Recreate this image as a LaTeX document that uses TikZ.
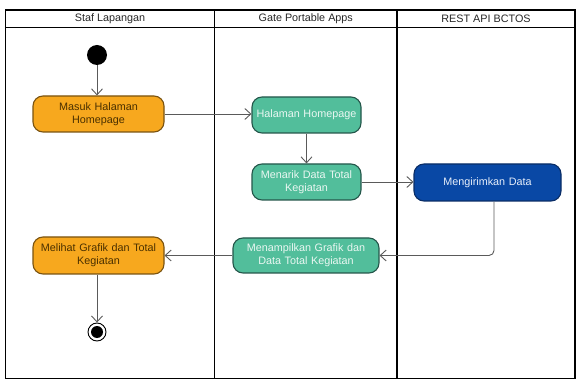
\documentclass[tikz,border=0pt]{standalone}
\usepackage{fontspec}
\setmainfont{Liberation Sans}
\usetikzlibrary{arrows.meta,positioning}
\definecolor{orangefill}{HTML}{F7A81E}
\definecolor{orangeline}{HTML}{7A5310}
\definecolor{orangetext}{HTML}{4A3000}
\definecolor{tealfill}{HTML}{52BE9B}
\definecolor{tealline}{HTML}{24564A}
\definecolor{tealtext}{HTML}{EAF7F2}
\definecolor{bluefill}{HTML}{0948A5}
\definecolor{blueline}{HTML}{0A2D66}
\definecolor{bluetext}{HTML}{E6EEFA}
\definecolor{conn}{HTML}{5A5A5A}
\tikzset{
  act/.style={draw, line width=1.1pt, rounded corners=10pt, inner sep=0pt,
    align=center, font=\fontsize{10.8}{12.8}\selectfont},
  actorange/.style={act, fill=orangefill, draw=orangeline, text=orangetext},
  actteal/.style={act, fill=tealfill, draw=tealline, text=tealtext},
  actblue/.style={act, fill=bluefill, draw=blueline, text=bluetext},
  flow/.style={draw=conn, line width=0.9pt, -{Straight Barb[length=6pt,width=11pt,line width=0.9pt]}},
  lane/.style={draw=black, line width=1.2pt},
  header/.style={font=\fontsize{10.8}{12}\selectfont, text=black!85}
}
\begin{document}
\begin{tikzpicture}[x=1pt,y=-1pt]
\useasboundingbox (0,0) rectangle (578,379);
% swimlanes
\draw[lane] (5.5,10) rectangle (575,378.5);
\draw[lane] (5.5,27.5) -- (575,27.5);
\draw[lane] (214.5,10) -- (214.5,378.5);
\draw[lane] (397,10) -- (397,378.5);
\node[header] (h1) at (110,18.5) {Staf Lapangan};
\node[header] (h2) at (305.75,18.5) {Gate Portable Apps};
\node[header] (h3) at (486,18.5) {REST API BCTOS};
% nodes
\node[circle, fill=black, minimum size=20pt, inner sep=0pt] (start) at (97,55) {};
\node[actorange, minimum width=131pt, minimum height=36pt, text width=125pt] (masuk) at (98.5,114) {Masuk Halaman\\Homepage};
\node[actteal, minimum width=109pt, minimum height=36pt, text width=106pt] (halaman) at (306.5,115) {Halaman Homepage};
\node[actteal, minimum width=109pt, minimum height=36pt, text width=104pt] (menarik) at (306.5,182) {Menarik Data Total\\Kegiatan};
\node[actblue, minimum width=147pt, minimum height=37pt, text width=139pt] (kirim) at (487.5,182.5) {Mengirimkan Data};
\node[actteal, minimum width=146pt, minimum height=35pt, text width=142pt] (tampil) at (306,255.5) {Menampilkan Grafik dan\\Data Total Kegiatan};
\node[actorange, minimum width=131pt, minimum height=37pt, text width=127pt] (lihat) at (98.5,255.5) {Melihat Grafik dan Total\\Kegiatan};
\node[circle, draw=black, line width=0.9pt, fill=white, minimum size=18pt, inner sep=0pt] (end) at (97,332) {};
\node[circle, fill=black, minimum size=12pt, inner sep=0pt] (endin) at (end.center) {};
% connectors
\draw[flow] (start) -- (start |- masuk.north);
\draw[flow] (masuk.east) -- (halaman.west |- masuk.east);
\draw[flow] (halaman) -- (menarik);
\draw[flow] (menarik.east) -- (kirim.west |- menarik.east);
\draw[flow, rounded corners=5pt] ([xshift=6.5pt]kirim.south) |- (tampil.east);
\draw[flow] (tampil.west) -- (lihat.east);
\draw[flow] (lihat.south -| end) -- (end.north);
\end{tikzpicture}
\end{document}
